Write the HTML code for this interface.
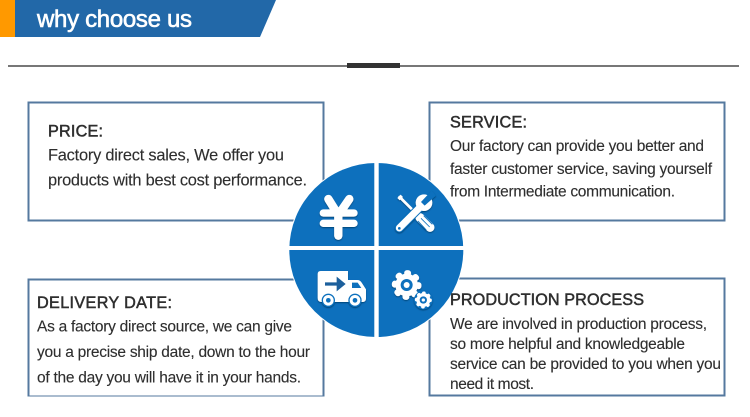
<!DOCTYPE html>
<html>
<head>
<meta charset="utf-8">
<style>
html,body{margin:0;padding:0;background:#fff;width:750px;height:417px;overflow:hidden}
svg{display:block}
text{font-family:"Liberation Sans",Arial,sans-serif;font-size:15.5px;fill:#2e2e2e;stroke:#2e2e2e;stroke-width:.12px}
.b{font-size:16.4px}
.h{font-size:16.2px;stroke:#2e2e2e;stroke-width:.5px}
</style>
</head>
<body>
<svg width="750" height="417" viewBox="0 0 750 417" xmlns="http://www.w3.org/2000/svg">
<defs>
<filter id="sh" x="-25%" y="-25%" width="150%" height="150%"><feDropShadow dx="0" dy="3" stdDeviation="2.5" flood-color="#04365f" flood-opacity=".75"/></filter>
<filter id="soft" x="0" y="0" width="100%" height="100%"><feGaussianBlur stdDeviation=".35"/></filter>
</defs>
<rect width="750" height="417" fill="#fff"/>
<g filter="url(#soft)">
<rect x="0" y="0" width="15" height="37" fill="#ff9900"/>
<polygon points="15,0 276,0 260,37 15,37" fill="#2268a8"/>
<text x="37" y="27" style="font-size:24px;fill:#fff;stroke:#fff;stroke-width:.6px" textLength="155" lengthAdjust="spacing">why choose us</text>

<rect x="8" y="65" width="731" height="2" fill="#777"/>
<rect x="347" y="63" width="53" height="5" fill="#333"/>

<g fill="#fff" stroke="#55799f" stroke-width="2">
<rect x="28.5" y="102.5" width="295" height="118"/>
<rect x="429.5" y="102.5" width="295" height="118"/>
<rect x="28.5" y="279.5" width="295" height="117"/>
<rect x="429.5" y="278.5" width="295" height="117"/>
</g>

<text class="h" x="48" y="136.5" textLength="55">PRICE:</text>
<text class="b" x="48" y="160.5" textLength="236">Factory direct sales, We offer you</text>
<text class="b" x="48" y="185.5" textLength="259">products with best cost performance.</text>

<text class="h" x="450" y="127.5" textLength="77">SERVICE:</text>
<text x="450" y="151" textLength="254">Our factory can provide you better and</text>
<text x="450" y="174" textLength="262">faster customer service, saving yourself</text>
<text x="450" y="196.5" textLength="225">from Intermediate communication.</text>

<text class="h" x="37" y="308" textLength="135">DELIVERY DATE:</text>
<text x="37" y="331.5" textLength="255">As a factory direct source, we can give</text>
<text x="37" y="357" textLength="273">you a precise ship date, down to the hour</text>
<text x="37" y="382.5" textLength="264">of the day you will have it in your hands.</text>

<circle cx="376.3" cy="250" r="88" fill="#fff"/>
<circle cx="376.3" cy="250" r="87" fill="#0a70bd"/>
<rect x="374.3" y="160" width="4.4" height="180" fill="#fff"/>
<rect x="286" y="246" width="181" height="4" fill="#fff"/>

<text class="h" x="450" y="305" textLength="194">PRODUCTION PROCESS</text>
<text x="450" y="329" textLength="257">We are involved in production process,</text>
<text x="450" y="349" textLength="235">so more helpful and knowledgeable</text>
<text x="450" y="369" textLength="271">service can be provided to you when you</text>
<text x="450" y="389" textLength="84">need it most.</text>

<g transform="translate(280 150) scale(.3333)">
<g filter="url(#sh)" stroke="#fff" fill="none" stroke-linecap="round" stroke-linejoin="round">
<path d="M145 147 L175 195 L208 147" stroke-width="25"/>
<path d="M175 195 V257" stroke-width="25"/>
<path d="M130 189 H222 M130 220 H222" stroke-width="22"/>
</g>

<g filter="url(#sh)">
<path d="M359 141 L420 202" stroke="#fff" stroke-width="8" stroke-linecap="round"/>
<path d="M357 139 L364 146" stroke="#fff" stroke-width="14"/>
<path d="M420 203 L450 232" stroke="#fff" stroke-width="27" stroke-linecap="round"/>
<path d="M414 213 L439 240 M423 205 L449 231 M431 197 L457 223" stroke="#0a70bd" stroke-width="2.5"/>
<path d="M358 234 L418 174" stroke="#0a70bd" stroke-width="27" stroke-linecap="round"/>
<path d="M358 234 L420 172" stroke="#fff" stroke-width="21" stroke-linecap="round"/>
<circle cx="432" cy="158" r="25" fill="#fff"/>
<polygon points="423,156 434,167 468,137 455,122" fill="#0a70bd"/>
<circle cx="358" cy="235" r="4" fill="#0a70bd"/>
</g>

<g filter="url(#sh)" fill="#fff">
<path d="M122 363 H204 V390 H232 Q240 390 245 398 L258 418 V445 Q258 456 248 456 H125 Q113 456 113 444 V372 Q113 363 122 363 Z"/>
<path d="M216 398 H233 L244 414 H216 Z" fill="#0a70bd"/>
<path d="M135 397 H170 V380 L197 402 L170 424 V407 H135 Z" fill="#1a5f9c"/>
<circle cx="145" cy="451" r="20" fill="#0a70bd"/>
<circle cx="145" cy="451" r="16"/>
<circle cx="145" cy="451" r="7" fill="#0a70bd"/>
<circle cx="225" cy="451" r="20" fill="#0a70bd"/>
<circle cx="225" cy="451" r="16"/>
<circle cx="225" cy="451" r="7" fill="#0a70bd"/>
</g>

<g filter="url(#sh)">
<circle cx="380" cy="405" r="34" fill="#fff"/>
<circle cx="380" cy="405" r="36" fill="none" stroke="#fff" stroke-width="17" stroke-linecap="round" stroke-dasharray="4 24.27"/>
<circle cx="380" cy="405" r="18" fill="#0a70bd"/>
<circle cx="380" cy="405" r="9" fill="#fff"/>
<circle cx="430" cy="450" r="28" fill="#0a70bd"/>
<circle cx="430" cy="450" r="21" fill="#fff"/>
<circle cx="430" cy="450" r="21" fill="none" stroke="#fff" stroke-width="9" stroke-linecap="round" stroke-dasharray="2 14.49"/>
<circle cx="430" cy="450" r="11" fill="#0a70bd"/>
<circle cx="430" cy="450" r="5" fill="#fff"/>
</g>
</g>
</g>
</svg>
</body>
</html>
